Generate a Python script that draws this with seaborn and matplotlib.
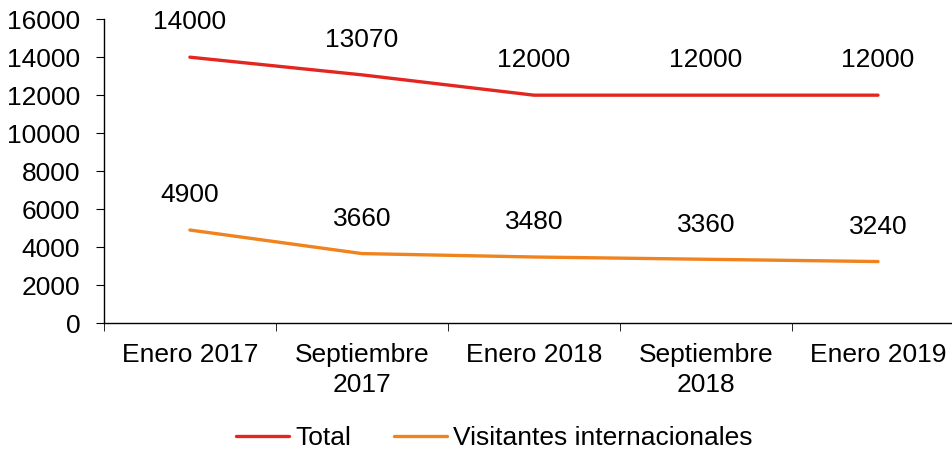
import pandas as pd
import matplotlib
matplotlib.use("Agg")
import matplotlib.pyplot as plt
import seaborn as sns

periodos = ["Enero 2017", "Septiembre\n2017", "Enero 2018", "Septiembre\n2018", "Enero 2019"]
total = [14000, 13070, 12000, 12000, 12000]
internacionales = [4900, 3660, 3480, 3360, 3240]
series = ["Total", "Visitantes internacionales"]
colores = ["#E3261F", "#F0831E"]

df = pd.DataFrame({
    "x": list(range(len(periodos))) * 2,
    "valor": total + internacionales,
    "serie": [series[0]] * len(total) + [series[1]] * len(internacionales),
})

sns.set_style("white")
plt.rcParams["font.family"] = ["Liberation Sans", "DejaVu Sans"]
plt.rcParams["text.color"] = "black"
plt.rcParams["xtick.color"] = "black"
plt.rcParams["ytick.color"] = "black"

fig = plt.figure(figsize=(9.53, 4.57), dpi=100)
ax = fig.add_axes([0.109, 0.293, 0.891, 0.665])

sns.lineplot(data=df, x="x", y="valor", hue="serie", palette=colores, linewidth=2.4, ax=ax)

for s, vals in zip(series, [total, internacionales]):
    for i, v in enumerate(vals):
        ax.annotate(str(v), (i, v), xytext=(0, 25), textcoords="offset points",
                    ha="center", va="center", fontsize=19)

ax.set_ylim(0, 16000)
ax.set_yticks(range(0, 16001, 2000))
ax.set_xlim(-0.5, 4.436)
ax.set_xticks(range(len(periodos)))
ax.set_xticklabels(periodos, linespacing=1.35)
ax.set_xticks([i - 0.5 for i in range(len(periodos))], minor=True)
ax.tick_params(axis="x", which="major", length=0, pad=14, labelsize=19)
ax.tick_params(axis="x", which="minor", length=6, direction="out", bottom=True)
ax.tick_params(axis="y", length=6, direction="out", left=True, labelsize=19, pad=11)
ax.set_xlabel("")
ax.set_ylabel("")
for sp in ["top", "right"]:
    ax.spines[sp].set_visible(False)
for sp in ["left", "bottom"]:
    ax.spines[sp].set_color("black")
    ax.spines[sp].set_linewidth(1)

ax.legend(loc="center", bbox_to_anchor=(0.46, -0.378), ncol=2,
          frameon=False, fontsize=19, handlelength=2.0, columnspacing=1.6, handletextpad=0.25)

fig.savefig("out.png", dpi=100)
